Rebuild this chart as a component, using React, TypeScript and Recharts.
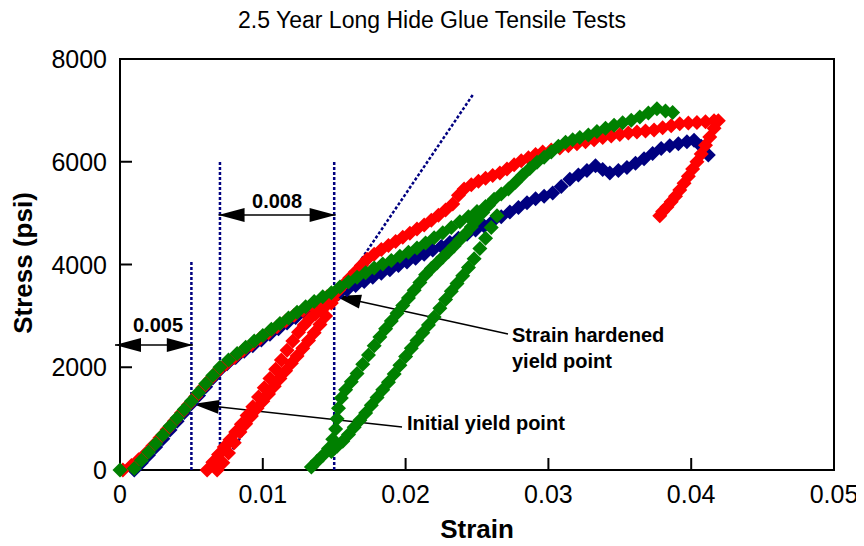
import React from 'react';
import {
  ScatterChart,
  Scatter,
  XAxis,
  YAxis,
  ReferenceLine,
  ReferenceArea,
  ReferenceDot,
} from 'recharts';

const xTicks = [0, 0.01, 0.02, 0.03, 0.04, 0.05];
const yTicks = [0, 2000, 4000, 6000, 8000];

// [strain, stress (psi)]
const blueSeries: [number, number][] = [
  [0.001, 0], [0.0015, 140], [0.002, 290], [0.0025, 450], [0.003, 610], [0.0035, 780],
  [0.004, 950], [0.0045, 1120], [0.005, 1290], [0.0055, 1450], [0.006, 1620], [0.0065, 1790],
  [0.007, 1950], [0.0075, 2070], [0.0081, 2190], [0.0087, 2310], [0.0093, 2420], [0.0099, 2530],
  [0.0105, 2640], [0.0111, 2750], [0.0117, 2860], [0.0123, 2970], [0.0129, 3070], [0.0135, 3170],
  [0.0141, 3260], [0.0147, 3350], [0.0153, 3430], [0.0159, 3510], [0.0165, 3590], [0.0171, 3670],
  [0.0177, 3750], [0.0183, 3830], [0.0189, 3900], [0.0195, 3980], [0.0201, 4050], [0.0207, 4120],
  [0.0213, 4200], [0.0219, 4280], [0.0225, 4350], [0.0231, 4430], [0.0237, 4510], [0.0243, 4590],
  [0.0249, 4670], [0.0255, 4750], [0.0261, 4840], [0.0267, 4930], [0.0273, 5020], [0.0279, 5110],
  [0.0285, 5200], [0.0291, 5280], [0.0297, 5330], [0.0303, 5390], [0.0309, 5520], [0.0315, 5660],
  [0.0321, 5740], [0.0327, 5830], [0.0333, 5920], [0.0338, 5850], [0.0343, 5780], [0.0349, 5830],
  [0.0355, 5890], [0.0361, 5970], [0.0367, 6060], [0.0373, 6160], [0.0379, 6260], [0.0385, 6310],
  [0.0391, 6350], [0.0397, 6390], [0.0402, 6420], [0.0407, 6300], [0.0412, 6130],
];

const redLoading: [number, number][] = [
  [0.0002, 0], [0.0008, 90], [0.0013, 200], [0.0018, 320], [0.0023, 470], [0.0028, 630],
  [0.0033, 790], [0.0038, 950], [0.0043, 1110], [0.0048, 1270], [0.0053, 1430], [0.0058, 1600],
  [0.0063, 1760], [0.0068, 1910], [0.0074, 2060], [0.008, 2190], [0.0086, 2320], [0.0092, 2440],
  [0.0098, 2560], [0.0104, 2670], [0.011, 2790], [0.0116, 2900], [0.0122, 3010], [0.0128, 3110],
  [0.0134, 3210], [0.014, 3300], [0.0145, 3370], [0.0149, 3420],
];

const redUnloading: [number, number][] = [
  [0.0148, 3250], [0.0144, 3000], [0.014, 2830], [0.0136, 2670], [0.0132, 2520], [0.0128, 2370],
  [0.0124, 2220], [0.012, 2080], [0.0116, 1930], [0.0112, 1780], [0.0108, 1630], [0.0104, 1480],
  [0.01, 1340], [0.0096, 1200], [0.0092, 1050], [0.0088, 900], [0.0084, 740], [0.008, 530],
  [0.0076, 330], [0.0072, 140], [0.0068, 0],
];

const redReloading: [number, number][] = [
  [0.0061, 0], [0.0065, 150], [0.0069, 300], [0.0073, 450], [0.0077, 590], [0.0081, 740],
  [0.0085, 890], [0.0089, 1060], [0.0093, 1230], [0.0097, 1420], [0.0101, 1600], [0.0105, 1780],
  [0.0109, 1960], [0.0113, 2140], [0.0117, 2330], [0.0121, 2510], [0.0125, 2680], [0.0129, 2820],
  [0.0133, 2950], [0.0137, 3040], [0.0141, 3120], [0.0145, 3220], [0.0149, 3330],
  [0.0153, 3500], [0.0157, 3620], [0.0161, 3740], [0.0165, 3860], [0.0169, 3980], [0.0173, 4100],
  [0.0178, 4200], [0.0183, 4290], [0.0188, 4370], [0.0193, 4450], [0.0198, 4530], [0.0203, 4610],
  [0.0208, 4690], [0.0213, 4770], [0.0218, 4860], [0.0223, 4960], [0.0228, 5060], [0.0233, 5180],
  [0.0237, 5350], [0.0241, 5470], [0.0246, 5550], [0.0251, 5620], [0.0256, 5680], [0.0261, 5730],
  [0.0266, 5780], [0.0271, 5860], [0.0276, 5940], [0.0281, 6020], [0.0286, 6080], [0.0291, 6140],
  [0.0296, 6190], [0.0302, 6230], [0.0308, 6270], [0.0314, 6310], [0.032, 6350], [0.0326, 6390],
  [0.0332, 6430], [0.0338, 6470], [0.0344, 6500], [0.035, 6530], [0.0356, 6560], [0.0362, 6580],
  [0.0368, 6600], [0.0374, 6620], [0.038, 6660], [0.0386, 6700], [0.0392, 6740], [0.0398, 6755],
  [0.0404, 6765], [0.041, 6780], [0.0416, 6800], [0.0419, 6800],
];

const redFailure: [number, number][] = [
  [0.0416, 6650], [0.0413, 6480], [0.041, 6320], [0.0407, 6150], [0.0404, 6000], [0.0401, 5860],
  [0.0398, 5720], [0.0395, 5580], [0.0392, 5450], [0.0389, 5330], [0.0386, 5220], [0.0383, 5120],
  [0.038, 5030], [0.0378, 4950],
];

const greenLoading: [number, number][] = [
  [0, 0], [0.001, 30], [0.0015, 190], [0.002, 350], [0.0025, 510], [0.003, 680], [0.0035, 850],
  [0.004, 1010], [0.0045, 1180], [0.005, 1340], [0.0055, 1510], [0.006, 1680], [0.0065, 1840],
  [0.007, 2000], [0.0076, 2140], [0.0082, 2270], [0.0088, 2390], [0.0094, 2510], [0.01, 2620],
  [0.0106, 2740], [0.0112, 2850], [0.0118, 2960], [0.0124, 3070], [0.013, 3180], [0.0136, 3280],
  [0.0142, 3370], [0.0148, 3450], [0.0154, 3560], [0.016, 3660], [0.0166, 3750], [0.0172, 3840],
  [0.0178, 3930], [0.0184, 4010], [0.019, 4080], [0.0196, 4160], [0.0202, 4240], [0.0208, 4320],
  [0.0214, 4420], [0.022, 4520], [0.0226, 4620], [0.0232, 4720], [0.0238, 4830], [0.0244, 4930],
  [0.025, 5030], [0.0256, 5130],
];

const greenUnloading: [number, number][] = [
  [0.0264, 4950], [0.026, 4720], [0.0256, 4510], [0.0252, 4310], [0.0248, 4110], [0.0244, 3940],
  [0.024, 3780], [0.0236, 3630], [0.0232, 3480], [0.0228, 3320], [0.0224, 3150], [0.022, 2980],
  [0.0216, 2820], [0.0212, 2670], [0.0208, 2520], [0.0204, 2370], [0.02, 2210], [0.0196, 2040],
  [0.0192, 1870], [0.0188, 1710], [0.0184, 1560], [0.018, 1410], [0.0176, 1260], [0.0172, 1110],
  [0.0168, 970], [0.0164, 830], [0.016, 690], [0.0156, 560], [0.0152, 460], [0.0148, 360],
];

const greenReloading: [number, number][] = [
  [0.0134, 60], [0.0138, 170], [0.0142, 280], [0.0146, 420], [0.0149, 600], [0.0151, 800],
  [0.0152, 1000], [0.0153, 1200], [0.0155, 1400], [0.0158, 1560], [0.0162, 1720], [0.0166, 1880],
  [0.017, 2060], [0.0174, 2240], [0.0178, 2420], [0.0182, 2590], [0.0186, 2750], [0.019, 2900],
  [0.0194, 3050], [0.0198, 3200], [0.0202, 3350], [0.0206, 3500], [0.021, 3650], [0.0214, 3800],
  [0.0218, 3920], [0.0222, 4030], [0.0226, 4140], [0.023, 4250], [0.0234, 4360], [0.0238, 4480],
  [0.0242, 4600], [0.0246, 4730], [0.025, 4870], [0.0254, 5010], [0.0258, 5150], [0.0262, 5270],
  [0.0267, 5370], [0.0272, 5470], [0.0277, 5600], [0.0282, 5740], [0.0287, 5870], [0.0292, 5990],
  [0.0297, 6090], [0.0302, 6190], [0.0307, 6300], [0.0312, 6380], [0.0317, 6430], [0.0322, 6470],
  [0.0328, 6520], [0.0334, 6590], [0.034, 6650], [0.0346, 6710], [0.0352, 6760], [0.0358, 6810],
  [0.0364, 6870], [0.037, 6950], [0.0376, 7030], [0.0382, 6990], [0.0387, 6960],
];

const toPts = (arr: [number, number][]) => arr.map(([x, y]) => ({ x, y }));

const blueData = toPts(blueSeries);
const redData = toPts([...redLoading, ...redUnloading, ...redReloading, ...redFailure]);
const greenData = toPts([...greenLoading, ...greenUnloading, ...greenReloading]);

const FONT = '"Liberation Sans", Arial, Helvetica, sans-serif';
const NAVY = '#000080';

const Diamond = (props: any) => {
  const { cx, cy, fill } = props;
  if (cx == null || cy == null) return null;
  const r = 7.5;
  return (
    <polygon
      points={`${cx},${cy - r} ${cx + r},${cy} ${cx},${cy + r} ${cx - r},${cy}`}
      fill={fill}
    />
  );
};

const XTick = (props: any) => {
  const { x, y, payload } = props;
  return (
    <g>
      {payload.value !== 0 && payload.value !== 0.05 && (
        <line x1={x} y1={y} x2={x} y2={y - 12} stroke="#000" strokeWidth={2} />
      )}
      <text x={x} y={y + 33} textAnchor="middle" fontSize={25} fontFamily={FONT} fill="#000">
        {String(payload.value)}
      </text>
    </g>
  );
};

const YTick = (props: any) => {
  const { x, y, payload } = props;
  return (
    <g>
      {payload.value !== 0 && payload.value !== 8000 && (
        <line x1={x} y1={y} x2={x + 12} y2={y} stroke="#000" strokeWidth={2} />
      )}
      <text x={x - 13} y={y + 9} textAnchor="end" fontSize={25} fontFamily={FONT} fill="#000">
        {String(payload.value)}
      </text>
    </g>
  );
};

const arrowHead = (tx: number, ty: number, fx: number, fy: number) => {
  const dx = fx - tx;
  const dy = fy - ty;
  const len = Math.hypot(dx, dy) || 1;
  const ux = dx / len;
  const uy = dy / len;
  const L = 26;
  const W = 7;
  const bx = tx + ux * L;
  const by = ty + uy * L;
  return (
    <polygon
      points={`${tx},${ty} ${bx - uy * W},${by + ux * W} ${bx + uy * W},${by - ux * W}`}
      fill="#000"
    />
  );
};

const makeArrow = (double: boolean) => (props: any) => {
  const { x1, y1, x2, y2 } = props;
  return (
    <g>
      <line x1={x1} y1={y1} x2={x2} y2={y2} stroke="#000" strokeWidth={1.5} />
      {arrowHead(x1, y1, x2, y2)}
      {double && arrowHead(x2, y2, x1, y1)}
    </g>
  );
};

const makeText = (lines: string[], anchor: 'start' | 'middle') => (props: any) => {
  const { cx, cy } = props;
  return (
    <text
      x={cx}
      y={cy}
      textAnchor={anchor}
      fontSize={20}
      fontWeight="bold"
      fontFamily={FONT}
      fill="#000"
    >
      {lines.map((l, i) => (
        <tspan key={i} x={cx} dy={i === 0 ? 0 : 26}>
          {l}
        </tspan>
      ))}
    </text>
  );
};

const dotted = { stroke: NAVY, strokeWidth: 2.5, strokeDasharray: '3 2' };

export default function App() {
  return (
    <div style={{ width: 856, height: 538 }}>
      <ScatterChart
        width={856}
        height={538}
        margin={{ top: 51, right: 30, left: 32, bottom: 36 }}
      >
        <XAxis
          type="number"
          dataKey="x"
          domain={[0, 0.05]}
          ticks={xTicks}
          interval={0}
          axisLine={false}
          tickSize={0}
          tickMargin={0}
          tick={<XTick />}
          height={40}
        />
        <YAxis
          type="number"
          dataKey="y"
          domain={[0, 8000]}
          ticks={yTicks}
          interval={0}
          axisLine={false}
          tickSize={0}
          tickMargin={0}
          tick={<YTick />}
          width={80}
        />
        <Scatter data={blueData} fill={NAVY} shape={<Diamond />} isAnimationActive={false} />
        <Scatter data={redData} fill="#FF0000" shape={<Diamond />} isAnimationActive={false} />
        <Scatter data={greenData} fill="#008000" shape={<Diamond />} isAnimationActive={false} />

        <ReferenceArea
          x1={0}
          x2={0.05}
          y1={0}
          y2={8000}
          fill="none"
          fillOpacity={0}
          stroke="#000"
          strokeWidth={2}
          ifOverflow="visible"
        />

        <ReferenceLine segment={[{ x: 0.005, y: 0 }, { x: 0.005, y: 4050 }]} {...dotted} ifOverflow="visible" />
        <ReferenceLine segment={[{ x: 0.007, y: 0 }, { x: 0.007, y: 6000 }]} {...dotted} ifOverflow="visible" />
        <ReferenceLine segment={[{ x: 0.015, y: 0 }, { x: 0.015, y: 6000 }]} {...dotted} ifOverflow="visible" />
        <ReferenceLine segment={[{ x: 0.0069, y: 0 }, { x: 0.0247, y: 7300 }]} {...dotted} ifOverflow="visible" />
        <ReferenceLine segment={[{ x: 0.0007, y: 0 }, { x: 0.0072, y: 1950 }]} {...dotted} ifOverflow="visible" />

        <ReferenceLine
          segment={[{ x: -0.00035, y: 2433 }, { x: 0.0051, y: 2433 }]}
          ifOverflow="visible"
          shape={makeArrow(true)}
        />
        <ReferenceLine
          segment={[{ x: 0.0069, y: 4962 }, { x: 0.0151, y: 4962 }]}
          ifOverflow="visible"
          shape={makeArrow(true)}
        />
        <ReferenceLine
          segment={[{ x: 0.01506, y: 3386 }, { x: 0.02717, y: 2647 }]}
          ifOverflow="visible"
          shape={makeArrow(false)}
        />
        <ReferenceLine
          segment={[{ x: 0.00511, y: 1284 }, { x: 0.01975, y: 837 }]}
          ifOverflow="visible"
          shape={makeArrow(false)}
        />

        <ReferenceDot x={0.00266} y={2686} r={0} ifOverflow="visible" shape={makeText(['0.005'], 'middle')} />
        <ReferenceDot x={0.011} y={5099} r={0} ifOverflow="visible" shape={makeText(['0.008'], 'middle')} />
        <ReferenceDot
          x={0.02745}
          y={2491}
          r={0}
          ifOverflow="visible"
          shape={makeText(['Strain hardened', 'yield point'], 'start')}
        />
        <ReferenceDot x={0.0201} y={778} r={0} ifOverflow="visible" shape={makeText(['Initial yield point'], 'start')} />

        <text x={424} y={20} textAnchor="middle" fontSize={23} fontFamily={FONT} fill="#000">
          2.5 Year Long Hide Glue Tensile Tests
        </text>
        <text x={469} y={530} textAnchor="middle" fontSize={26} fontWeight="bold" fontFamily={FONT} fill="#000">
          Strain
        </text>
        <text
          x={24}
          y={255}
          transform="rotate(-90 24 255)"
          textAnchor="middle"
          fontSize={26}
          fontWeight="bold"
          fontFamily={FONT}
          fill="#000"
        >
          Stress (psi)
        </text>
      </ScatterChart>
    </div>
  );
}
